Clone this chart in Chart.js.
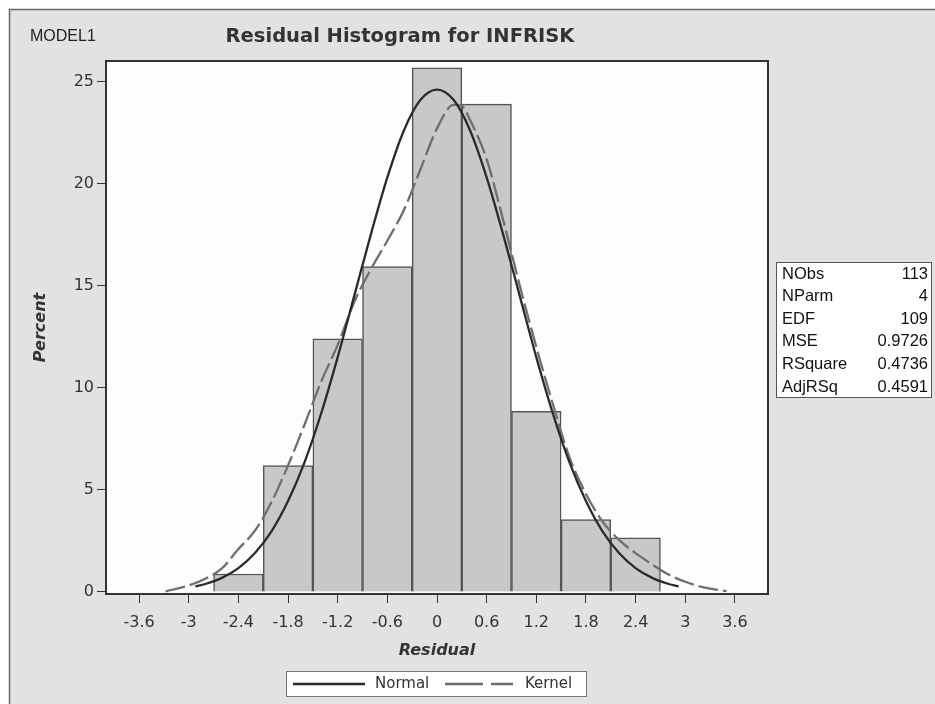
<!DOCTYPE html>
<html>
<head>
<meta charset="utf-8">
<script src="https://cdn.jsdelivr.net/npm/chart.js@4.4.1/dist/chart.umd.min.js"></script>
<style>
html,body{margin:0;padding:0;background:#fff;}
canvas{display:block;}
</style>
</head>
<body>
<canvas id="c" width="935" height="704"></canvas>
<script>
// ---- data ----
const binMids = [-2.4, -1.8, -1.2, -0.6, 0, 0.6, 1.2, 1.8, 2.4];
const binPercents = [0.88, 6.19, 12.39, 15.93, 25.66, 23.89, 8.85, 3.54, 2.65];

const normalX = [-2.92, -2.8, -2.6, -2.4, -2.2, -2.0, -1.8, -1.6, -1.4, -1.2, -1.0, -0.8, -0.6, -0.4, -0.2, 0, 0.2, 0.4, 0.6, 0.8, 1.0, 1.2, 1.4, 1.6, 1.8, 2.0, 2.2, 2.4, 2.6, 2.8, 2.92];
const normalY = [0.27, 0.39, 0.69, 1.17, 1.91, 2.97, 4.45, 6.36, 8.74, 11.5, 14.5, 17.5, 20.3, 22.6, 24.1, 24.6, 24.1, 22.6, 20.3, 17.5, 14.5, 11.5, 8.74, 6.36, 4.45, 2.97, 1.91, 1.17, 0.69, 0.39, 0.27];

const kernelX = [-3.28, -3.0, -2.8, -2.6, -2.4, -2.2, -2.0, -1.8, -1.6, -1.4, -1.2, -1.0, -0.8, -0.6, -0.4, -0.2, 0, 0.2, 0.3, 0.4, 0.6, 0.8, 1.0, 1.2, 1.4, 1.6, 1.8, 2.0, 2.2, 2.4, 2.6, 2.8, 3.0, 3.2, 3.5];
const kernelY = [0.03, 0.32, 0.65, 1.15, 2.1, 3.0, 4.4, 6.2, 8.2, 10.3, 12.1, 14.2, 15.8, 17.2, 18.7, 20.7, 22.7, 23.85, 23.8, 23.1, 21.2, 18.2, 15.0, 12.0, 9.2, 6.6, 4.8, 3.45, 2.55, 1.9, 1.35, 0.85, 0.5, 0.25, 0.04];

const xTicks = [-3.6, -3, -2.4, -1.8, -1.2, -0.6, 0, 0.6, 1.2, 1.8, 2.4, 3, 3.6];
const yTicks = [0, 5, 10, 15, 20, 25];

const statLabels = ["NObs", "NParm", "EDF", "MSE", "RSquare", "AdjRSq"];
const statValues = ["113", "4", "109", "0.9726", "0.4736", "0.4591"];

const modelLabel = "MODEL1";
const chartTitle = "Residual Histogram for INFRISK";
const xTitle = "Residual";
const yTitle = "Percent";

// ---- decorations ----
const deco = {
  id: 'deco',
  beforeDraw(chart) {
    const ctx = chart.ctx, W = chart.width, H = chart.height, a = chart.chartArea;
    ctx.save();
    ctx.fillStyle = '#ffffff';
    ctx.fillRect(0, 0, W, H);
    ctx.fillStyle = '#e2e2e2';
    ctx.fillRect(10, 10, W - 10, H - 10);
    ctx.strokeStyle = '#666';
    ctx.lineWidth = 1.5;
    ctx.beginPath();
    ctx.moveTo(9.5, H); ctx.lineTo(9.5, 9.5); ctx.lineTo(W, 9.5);
    ctx.stroke();
    ctx.fillStyle = '#fdfdfd';
    ctx.fillRect(a.left, a.top, a.right - a.left, a.bottom - a.top);
    ctx.restore();
  },
  afterDraw(chart) {
    const ctx = chart.ctx, a = chart.chartArea;
    ctx.save();
    // plot frame
    ctx.strokeStyle = '#333';
    ctx.lineWidth = 2;
    ctx.strokeRect(a.left, a.top, a.right - a.left, a.bottom - a.top);
    // model label
    ctx.fillStyle = '#222';
    ctx.textBaseline = 'middle';
    ctx.textAlign = 'left';
    ctx.font = '16px "Liberation Sans", Arial, sans-serif';
    ctx.fillText(modelLabel, 30, 37);
    // title
    ctx.textAlign = 'center';
    ctx.fillStyle = '#333';
    ctx.font = 'bold 19.5px "DejaVu Sans", sans-serif';
    ctx.fillText(chartTitle, 400, 37);
    // stats box
    const bx = 776, by = 262, bw = 155, bh = 135;
    ctx.fillStyle = '#ffffff';
    ctx.fillRect(bx, by, bw, bh);
    ctx.strokeStyle = '#555';
    ctx.lineWidth = 1;
    ctx.strokeRect(bx + 0.5, by + 0.5, bw, bh);
    ctx.fillStyle = '#111';
    ctx.font = '16.5px "Liberation Sans", Arial, sans-serif';
    for (let i = 0; i < statLabels.length; i++) {
      const y = by + 12 + i * 22.6;
      ctx.textAlign = 'left';
      ctx.fillText(statLabels[i], bx + 6, y);
      ctx.textAlign = 'right';
      ctx.fillText(statValues[i], bx + bw - 3, y);
    }
    // legend
    const ds = chart.data.datasets;
    const lx = 286.5, ly = 671.5, lw = 300, lh = 25, cy = ly + lh / 2;
    ctx.fillStyle = '#ffffff';
    ctx.fillRect(lx, ly, lw, lh);
    ctx.strokeStyle = '#777';
    ctx.lineWidth = 1;
    ctx.strokeRect(lx, ly, lw, lh);
    ctx.font = '15px "DejaVu Sans", sans-serif';
    ctx.textAlign = 'left';
    const items = [{d: ds[1], x0: 293, x1: 365, tx: 375, dash: []},
                   {d: ds[2], x0: 445, x1: 513, tx: 525, dash: [38, 8]}];
    items.forEach(it => {
      ctx.strokeStyle = it.d.borderColor;
      ctx.lineWidth = 2.5;
      ctx.setLineDash(it.dash);
      ctx.beginPath(); ctx.moveTo(it.x0, cy); ctx.lineTo(it.x1, cy); ctx.stroke();
      ctx.setLineDash([]);
      ctx.fillStyle = '#333';
      ctx.fillText(it.d.label, it.tx, cy);
    });
    ctx.restore();
  }
};

const tickFont = {family: '"DejaVu Sans", sans-serif', size: 16};
const titleFont = {family: '"DejaVu Sans", sans-serif', size: 16, weight: 'bold', style: 'italic'};

new Chart(document.getElementById('c'), {
  type: 'bar',
  data: {
    datasets: [
      {
        type: 'bar', label: 'Percent',
        data: binMids.map((x, i) => ({x: x, y: binPercents[i]})),
        backgroundColor: '#c8c8c8', borderColor: '#555', borderWidth: 1.5,
        barPercentage: 1, categoryPercentage: 1, grouped: false, order: 3
      },
      {
        type: 'line', label: 'Normal',
        data: normalX.map((x, i) => ({x: x, y: normalY[i]})),
        borderColor: '#2a2a2a', borderWidth: 2.3, pointRadius: 0,
        cubicInterpolationMode: 'monotone', fill: false, order: 1
      },
      {
        type: 'line', label: 'Kernel',
        data: kernelX.map((x, i) => ({x: x, y: kernelY[i]})),
        borderColor: '#6e6e6e', borderWidth: 2.3, borderDash: [20, 5], pointRadius: 0,
        cubicInterpolationMode: 'monotone', fill: false, order: 2
      }
    ]
  },
  options: {
    responsive: false,
    animation: false,
    devicePixelRatio: 1,
    layout: {padding: {left: 10, right: 167, top: 61, bottom: 40}},
    plugins: {legend: {display: false}, tooltip: {enabled: false}, title: {display: false}},
    scales: {
      x: {
        type: 'linear', min: -4, max: 4, offset: false,
        afterBuildTicks: s => { s.ticks = xTicks.map(v => ({value: v})); },
        afterFit: s => { s.height = 70; },
        ticks: {font: tickFont, color: '#333', padding: 10, maxRotation: 0, autoSkip: false,
                callback: v => String(Math.round(v * 10) / 10)},
        grid: {offset: false, drawOnChartArea: false, drawTicks: true, tickLength: 9, color: '#333', tickColor: '#333'},
        border: {display: false},
        title: {display: true, text: xTitle, font: titleFont, color: '#333', padding: {top: 0, bottom: 4}}
      },
      y: {
        type: 'linear', min: -0.1, max: 26,
        afterBuildTicks: s => { s.ticks = yTicks.map(v => ({value: v})); },
        afterFit: s => { s.width = 96; },
        ticks: {font: tickFont, color: '#333', padding: 3, autoSkip: false},
        grid: {offset: false, drawOnChartArea: false, drawTicks: true, tickLength: 9, color: '#333', tickColor: '#333'},
        border: {display: false},
        title: {display: true, text: yTitle, font: titleFont, color: '#333', padding: {top: 21, bottom: 0}}
      }
    }
  },
  plugins: [deco]
});
</script>
</body>
</html>
